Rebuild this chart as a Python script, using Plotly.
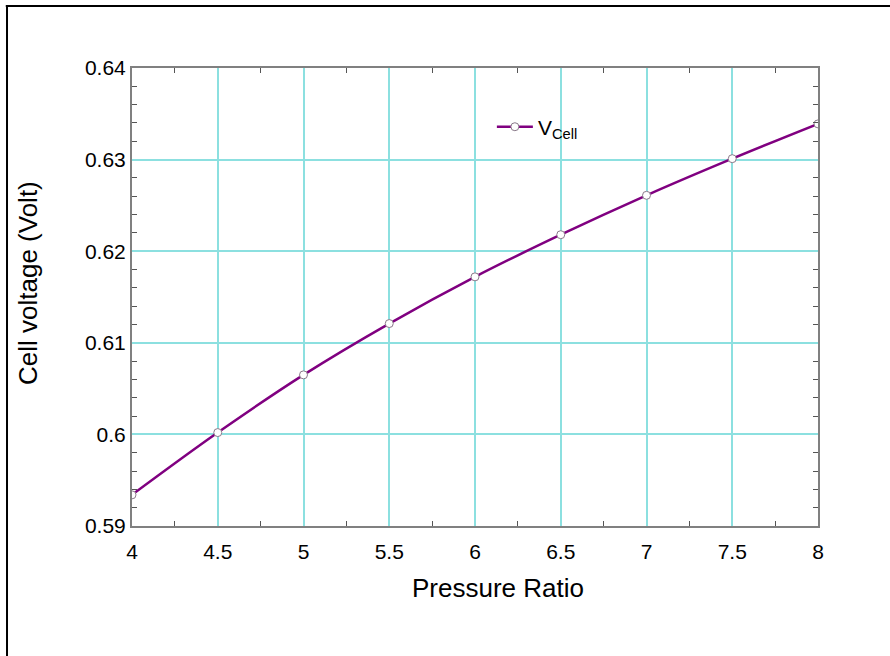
import plotly.graph_objects as go

pressure_ratio = [4, 4.5, 5, 5.5, 6, 6.5, 7, 7.5, 8]
cell_voltage = [0.5934, 0.6002, 0.6065, 0.6121, 0.6172, 0.6218, 0.6261, 0.6301, 0.6339]

x_title = "Pressure Ratio"
y_title = "Cell voltage (Volt)"

FONT = "Liberation Sans, Arial"

fig = go.Figure()
fig.add_trace(go.Scatter(
    x=pressure_ratio, y=cell_voltage, mode="lines+markers",
    name="V<sub>Cell</sub>",
    line=dict(color="#800080", width=2.5, shape="spline"),
    marker=dict(symbol="circle", size=8, color="white",
                line=dict(color="#8a7a8a", width=1)),
))

axis_common = dict(
    showline=True, linecolor="#808080", linewidth=2, mirror="ticks",
    showgrid=True, gridcolor="#8ce0e0", gridwidth=1.5,
    ticks="", zeroline=False,
    tickfont=dict(family=FONT, size=21, color="black"),
)
fig.update_xaxes(
    **axis_common, range=[4, 8], dtick=0.5, tick0=4,
    minor=dict(dtick=0.25, ticks="inside", ticklen=5, tickcolor="#555", showgrid=False),
    ticklabelstandoff=6,
)
fig.update_yaxes(
    **axis_common, range=[0.59, 0.64], dtick=0.01, tick0=0.59,
    minor=dict(dtick=0.002, ticks="inside", ticklen=5, tickcolor="#555", showgrid=False),
    tickformat="~g",
)

fig.update_layout(
    width=890, height=656,
    margin=dict(l=132, r=72, t=68, b=130, pad=0),
    paper_bgcolor="white", plot_bgcolor="white",
    showlegend=True,
    legend=dict(x=0.5246, y=0.871, xanchor="left", yanchor="middle",
                bgcolor="rgba(0,0,0,0)", itemwidth=36,
                font=dict(family=FONT, size=21, color="black")),
    annotations=[
        dict(text=x_title, xref="paper", yref="paper", x=0.5335, y=-0.135,
             xanchor="center", yanchor="middle", showarrow=False,
             font=dict(family=FONT, size=26, color="black")),
        dict(text=y_title, xref="paper", yref="paper", x=-0.1516, y=0.5306,
             xanchor="center", yanchor="middle", showarrow=False, textangle=-90,
             font=dict(family=FONT, size=26, color="black")),
    ],
    shapes=[
        dict(type="line", xref="paper", yref="paper", x0=-0.184, x1=1.11, y0=1.1354, y1=1.1354,
             line=dict(color="black", width=2)),
        dict(type="line", xref="paper", yref="paper", x0=-0.1822, x1=-0.1822, y0=1.137, y1=-0.3,
             line=dict(color="black", width=2)),
    ],
)

fig.write_html("out.html", post_script="document.body.style.margin='0';",
               config={"displayModeBar": False})
